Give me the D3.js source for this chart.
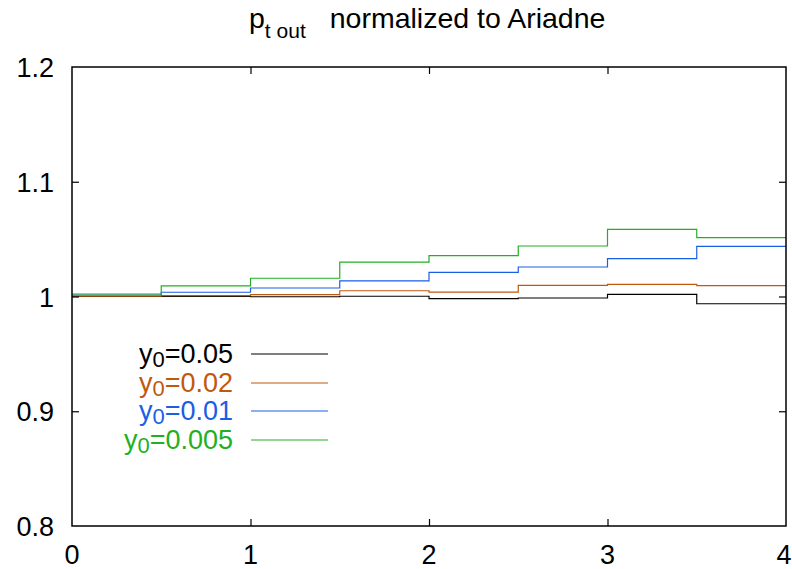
<!DOCTYPE html>
<html><head><meta charset="utf-8">
<script src="https://cdn.jsdelivr.net/npm/d3@7"></script>
<style>body{margin:0;background:#fff;} svg{display:block;font-family:"Liberation Sans",Arial,sans-serif;}</style>
</head><body><svg id="c" width="792" height="569"></svg>
<script>
const binEdges = [0,0.5,1,1.5,2,2.5,3,3.5,4];
const seriesNames = ["0.05","0.02","0.01","0.005"];
const seriesColors = ["#000000","#c0580e","#1a5ee6","#22b022"];
const y005  = [1.0000,1.0000,0.9998,1.0002,0.9981,0.9987,1.0019,0.9937];
const y002  = [1.0004,1.0007,1.0016,1.0050,1.0039,1.0097,1.0106,1.0094];
const y001  = [1.0013,1.0037,1.0074,1.0136,1.0211,1.0257,1.0330,1.0437];
const y0005 = [1.0022,1.0092,1.0159,1.0300,1.0356,1.0440,1.0585,1.0513];
const seriesValues = [y005,y002,y001,y0005];
const xTicks = [0,1,2,3,4];
const yTicks = [0.8,0.9,1.0,1.1,1.2];
const yTickLabels = ["0.8","0.9","1","1.1","1.2"];

const L=72,R=786,T=67,B=526;
const svg=d3.select("#c");
const x=d3.scaleLinear().domain([0,4]).range([L,R]);
const y=d3.scaleLinear().domain([0.8,1.2]).range([B,T]);

// series step lines
seriesValues.forEach((vals,i)=>{
  const pts=[];
  vals.forEach((v,j)=>{pts.push([binEdges[j],v]);pts.push([binEdges[j+1],v]);});
  svg.append("path").datum(pts)
    .attr("d",d3.line().x(d=>x(d[0])).y(d=>y(d[1])))
    .attr("fill","none").attr("stroke",seriesColors[i]).attr("stroke-width",1.2);
});

// frame
svg.append("rect").attr("x",L).attr("y",T).attr("width",R-L).attr("height",B-T)
  .attr("fill","none").attr("stroke","#000").attr("stroke-width",1.5);

// ticks inward
const tl=7;
const axB=d3.axisBottom(x).tickValues(xTicks.slice(1,-1)).tickSizeInner(-tl).tickSizeOuter(0).tickFormat("");
const axT=d3.axisTop(x).tickValues(xTicks.slice(1,-1)).tickSizeInner(-tl).tickSizeOuter(0).tickFormat("");
const axL=d3.axisLeft(y).tickValues(yTicks.slice(1,-1)).tickSizeInner(-tl).tickSizeOuter(0).tickFormat("");
const axR=d3.axisRight(y).tickValues(yTicks.slice(1,-1)).tickSizeInner(-tl).tickSizeOuter(0).tickFormat("");
[[axB,`translate(0,${B})`],[axT,`translate(0,${T})`],[axL,`translate(${L},0)`],[axR,`translate(${R},0)`]].forEach(([a,t])=>{
  const g=svg.append("g").attr("transform",t).call(a);
  g.select(".domain").remove();
  g.selectAll("line").attr("stroke","#000").attr("stroke-width",1.2);
});

// tick labels
svg.append("g").selectAll("text").data(yTicks).join("text")
  .attr("x",54).attr("y",d=>y(d)+10).attr("text-anchor","end")
  .attr("font-size",27).text((d,i)=>yTickLabels[i]);
svg.append("g").selectAll("text").data(xTicks).join("text")
  .attr("x",d=>Math.min(x(d),784)).attr("y",564).attr("text-anchor","middle")
  .attr("font-size",27).text(d=>d);

// title
const title=svg.append("text").attr("x",249).attr("y",28).attr("font-size",28.5);
title.append("tspan").text("p");
title.append("tspan").attr("font-size",21).attr("dy",10).text("t out");
title.append("tspan").attr("dy",-10).attr("dx",24).text("normalized to Ariadne");

// legend
const legY=[354,383,411,440];
seriesNames.forEach((n,i)=>{
  const t=svg.append("text").attr("x",233).attr("y",legY[i]+9).attr("text-anchor","end")
    .attr("font-size",27).attr("fill",seriesColors[i]);
  t.append("tspan").text("y");
  t.append("tspan").attr("font-size",22).attr("dy",4).text("0");
  t.append("tspan").attr("dy",-4).text("="+n);
  svg.append("line").attr("x1",251).attr("x2",328).attr("y1",legY[i]).attr("y2",legY[i])
    .attr("stroke",seriesColors[i]).attr("stroke-width",1.2);
});
</script></body></html>
